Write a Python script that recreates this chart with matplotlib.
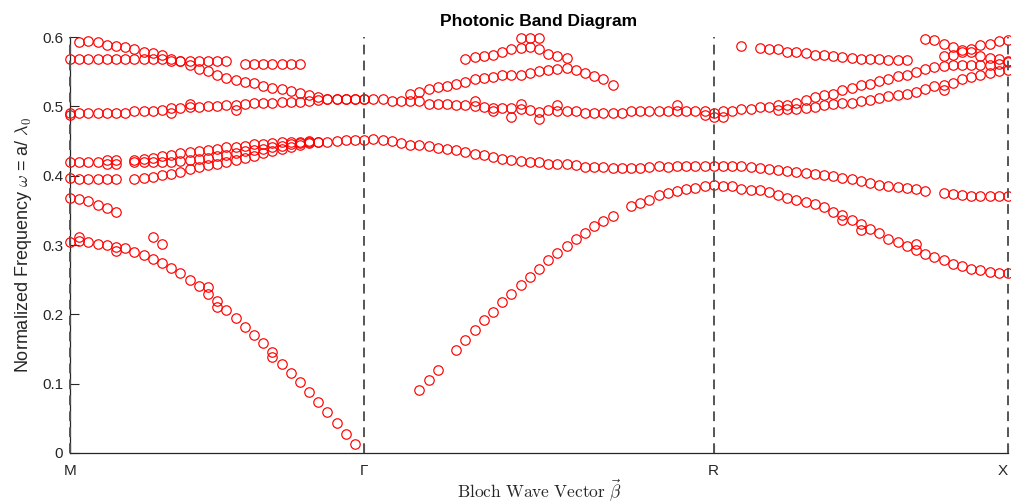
import numpy as np
import matplotlib
matplotlib.use('Agg')
import matplotlib.pyplot as plt

nan = np.nan
plt.rcParams['font.family'] = ['Liberation Sans', 'DejaVu Sans']
plt.rcParams['mathtext.fontset'] = 'cm'

# symmetry points (k-index) and labels
sym_labels = ['M', 'Γ', 'R', 'X']
sym_k = [0, 32, 70, 102]
y_ticks = [0, 0.1, 0.2, 0.3, 0.4, 0.5, 0.6]

# ---- band rows: start k-index and frequencies ----
top_mg_start = 1
top_mg = [0.593, 0.594, 0.593, 0.589, 0.587, 0.5855, 0.583, 0.579, 0.577, 0.5735,
          0.568, 0.565, 0.559, 0.554, 0.551, 0.5457, 0.541, 0.5375, 0.535, 0.533,
          0.529, 0.526, 0.5245, 0.522, 0.519, 0.517, 0.514, 0.511, 0.511, 0.511,
          0.511, 0.511]

flat057_start = 0
flat057 = [0.568] * 11 + [0.565] * 7 + [nan] + [0.561] * 7

mid05_start = 0
mid05 = [0.488, 0.491, 0.491, 0.491, 0.491, 0.491, 0.491, 0.4928, 0.4928, 0.4928,
         0.494, 0.4975, 0.4975, 0.499, 0.499, 0.501, 0.501, 0.5015, 0.5015, 0.503,
         0.5045, 0.5045, 0.505, 0.506, 0.506, 0.506, 0.5075, 0.509, 0.511, 0.511,
         0.511, 0.511, 0.511, 0.510, 0.510, 0.5073, 0.5073, 0.5073, 0.5073, 0.5039,
         0.5039, 0.503, 0.5024, 0.5014, 0.5005, 0.4995, 0.4976, 0.4976, 0.4978, 0.4966,
         0.4942, 0.4918, 0.4942, 0.4928, 0.4928, 0.4928, 0.491, 0.491, 0.491, 0.491,
         0.491, 0.4928, 0.4928, 0.4928, 0.4928, 0.4928, 0.4928, 0.4928, 0.4928, 0.4928,
         0.491, 0.4928, 0.4928, 0.4966, 0.4966, 0.499, 0.499, 0.4942, 0.4957, 0.4966,
         0.4976, 0.499, 0.5014, 0.5039, 0.5053, 0.5053, 0.5072, 0.5086, 0.512, 0.515,
         0.5168, 0.518, 0.5206, 0.5245, 0.5293, 0.5312, 0.534, 0.5399, 0.5423, 0.5456,
         0.5485, 0.5504, 0.552]

up_rx_start = 77
up_rx = [0.5014, 0.5024, 0.505, 0.5086, 0.5135, 0.5159, 0.518, 0.523, 0.5264, 0.5303,
         0.5327, 0.536, 0.5399, 0.5437, 0.5456, 0.5494, 0.5533, 0.5567, 0.558, 0.559,
         0.559, 0.559, 0.559, 0.56, 0.5614, 0.564]

band045_start = 0
band045 = [0.4198, 0.4198, 0.4198, 0.4198, 0.417, 0.417, nan, 0.422, 0.424, 0.426,
           0.428, 0.430, 0.432, 0.434, 0.436, 0.437, 0.439, 0.441, 0.442, 0.443,
           0.445, 0.446, 0.447, 0.448, 0.449, 0.449, 0.4495, 0.449, 0.449, 0.450,
           0.451, 0.452, 0.452, 0.4524, 0.451, 0.4496, 0.4477, 0.4448, 0.4448, 0.4428,
           0.44, 0.438, 0.4366, 0.4342, 0.4318, 0.4294, 0.427, 0.4246, 0.4229, 0.4207,
           0.4198, 0.4198, 0.4174, 0.4174, 0.4174, 0.415, 0.4126, 0.4126, 0.4126, 0.4111,
           0.4111, 0.4111, 0.4114, 0.4126, 0.4135, 0.413, 0.4135, 0.4135, 0.4135, 0.4135,
           0.4135, 0.4135, 0.4135, 0.4135, 0.4126, 0.4117, 0.4102, 0.4088, 0.4068, 0.4054,
           0.404, 0.402, 0.4006, 0.399, 0.397, 0.3946, 0.3922, 0.3898, 0.3869, 0.385,
           0.383, 0.382, 0.381, 0.3778, nan, 0.3751, 0.373, 0.3725, 0.371, 0.3705,
           0.370, 0.370, 0.370]

band042_start = 7
band042 = [0.4198, 0.420, 0.420, 0.420, 0.420, 0.421, 0.422, 0.424, 0.426, 0.428,
           0.430, 0.432, 0.435, 0.437, 0.439, 0.441, 0.443, 0.445, 0.447, 0.449]

band040_start = 0
band040 = [0.396, 0.395, 0.395, 0.395, 0.395, 0.395, nan, 0.395, 0.397, 0.3985,
           0.4006, 0.403, 0.406, 0.409, 0.4126, 0.415, 0.4174, 0.420, 0.423, 0.426,
           0.429, 0.432, 0.435, 0.438, 0.441, 0.444, 0.447, 0.449]

band036_start = 0
band036 = [0.368, 0.367, 0.3636, 0.357, 0.3535, 0.347, nan, nan, nan, 0.311, 0.301]

acoustic_start = 0
acoustic = [0.3045, 0.3055, 0.3045, 0.302, 0.2997, 0.297, 0.295, 0.290, 0.285, 0.2805,
            0.274, 0.267, 0.259, 0.250, 0.2406, 0.230, 0.211, 0.206, 0.195, 0.182,
            0.170, 0.158, 0.145, 0.129, 0.116, 0.103, 0.088, 0.074, 0.0595, 0.043,
            0.027, 0.013]

rise_start = 38
rise = [0.0908, 0.105, 0.1196, nan, 0.1484, 0.1628, 0.1772, 0.1916, 0.2036, 0.218,
        0.230, 0.242, 0.254, 0.266, 0.278, 0.2886, 0.2983, 0.308, 0.3175, 0.327,
        0.3348, 0.3415, nan, 0.3559, 0.3600, 0.3650, 0.3718, 0.3751, 0.378, 0.3814,
        0.3828, 0.3847, 0.3862, 0.3847, 0.3847, 0.3814, 0.38, 0.379, 0.3766, 0.3718,
        0.3684, 0.3646, 0.3622, 0.3588, 0.355, 0.3477, 0.343, 0.3367, 0.331, 0.3237,
        0.3175, 0.3093, 0.3045, 0.2983, 0.2935, 0.2877, 0.282, 0.278, 0.2733, 0.2695,
        0.2661, 0.2637, 0.2613, 0.2589, 0.2589]

hump_gr_start = 37
hump_gr = [0.518, 0.521, 0.5255, 0.528, 0.530, 0.5327, 0.535, 0.539, 0.541, 0.5423,
           0.5447, 0.545, 0.5456, 0.548, 0.5504, 0.552, 0.554, 0.5557, 0.552, 0.5485,
           0.5437, 0.539, 0.5313]

top_gr_start = 43
top_gr = [0.5687, 0.571, 0.5725, 0.5745, 0.579, 0.583, 0.584, 0.5855, 0.582, 0.576,
          0.5725, 0.5696]

top_rx_start = 73
top_rx = [0.5876, nan, 0.584, 0.582, 0.582, 0.579, 0.579, 0.5774, 0.5745, 0.5745,
          0.5725, 0.571, 0.570, 0.5687, 0.5687, 0.5687, 0.5663, 0.5663, 0.5663]

xa_start = 93
xa = [0.5965, 0.595, 0.5903, 0.5855, 0.5807, 0.582, 0.5879, 0.5903, 0.5937, 0.595]

xb_start = 95
xb = [0.5725, 0.5745, 0.5783, 0.579, 0.5725, 0.570, 0.5677, 0.566]

# isolated / duplicated solutions
extra_k = [0, 1, 4, 5, 5, 11, 13, 15, 16, 18, 22, 44, 46, 48, 49, 49, 50, 51,
           51, 53, 66, 69, 70, 71, 84, 86, 92, 95]
extra_w = [0.491, 0.311, 0.422, 0.422, 0.291, 0.491, 0.504, 0.2396, 0.2195, 0.495,
           0.139, 0.507, 0.4928, 0.485, 0.5039, 0.598, 0.598, 0.598, 0.482, 0.5014,
           0.5014, 0.487, 0.4846, 0.4846, 0.3357, 0.3223, 0.302, 0.523]

rows = [(top_mg_start, top_mg), (flat057_start, flat057), (mid05_start, mid05),
        (up_rx_start, up_rx), (band045_start, band045), (band042_start, band042),
        (band040_start, band040), (band036_start, band036),
        (acoustic_start, acoustic), (rise_start, rise), (hump_gr_start, hump_gr),
        (top_gr_start, top_gr), (top_rx_start, top_rx), (xa_start, xa),
        (xb_start, xb)]

W, H = 1011, 504
fig = plt.figure(figsize=(W / 100, H / 100), dpi=100)
ax = fig.add_axes([70 / W, 1 - 453 / H, (1008 - 70) / W, (453 - 37) / H])

mk = dict(linestyle='none', marker='o', markerfacecolor='none',
          markeredgecolor='#ff0000', markersize=6.8, markeredgewidth=0.85,
          clip_on=False, zorder=3)
for start, vals in rows:
    ks = np.arange(start, start + len(vals))
    ax.plot(ks, vals, **mk)
ax.plot(extra_k, extra_w, **mk)

for kk in sym_k:
    ax.plot([kk, kk], [0, 0.6], color='#555555', linewidth=1.4,
            dashes=(5, 3.2), zorder=4, clip_on=False)

ax.set_xlim(sym_k[0], sym_k[-1])
ax.set_ylim(0, 0.6)
ax.set_xticks(sym_k)
ax.set_xticklabels(sym_labels)
ax.get_xticklabels()[-1].set_horizontalalignment('right')
ax.set_yticks(y_ticks)
ax.set_yticklabels(['0', '0.1', '0.2', '0.3', '0.4', '0.5', '0.6'])
ax.tick_params(direction='in', length=6.5, width=0.8, colors='#262626',
               labelsize=11)
ax.tick_params(axis='x', pad=8)
ax.tick_params(axis='y', pad=5)
for s in ['top', 'right']:
    ax.spines[s].set_visible(False)
for s in ['left', 'bottom']:
    ax.spines[s].set_color('#262626')
    ax.spines[s].set_linewidth(0.9)

ax.set_title('Photonic Band Diagram', fontsize=12.5, fontweight='bold',
             color='black', pad=8)
ax.set_ylabel(r'Normalized Frequency $\omega$ = a/ $\lambda_0$', fontsize=13,
              color='#262626', labelpad=6)
ax.set_xlabel(r'$\mathrm{Bloch\ Wave\ Vector}\ \vec{\beta}$', fontsize=12.5,
              color='#262626', labelpad=0)

fig.savefig('out.png', dpi=100)
